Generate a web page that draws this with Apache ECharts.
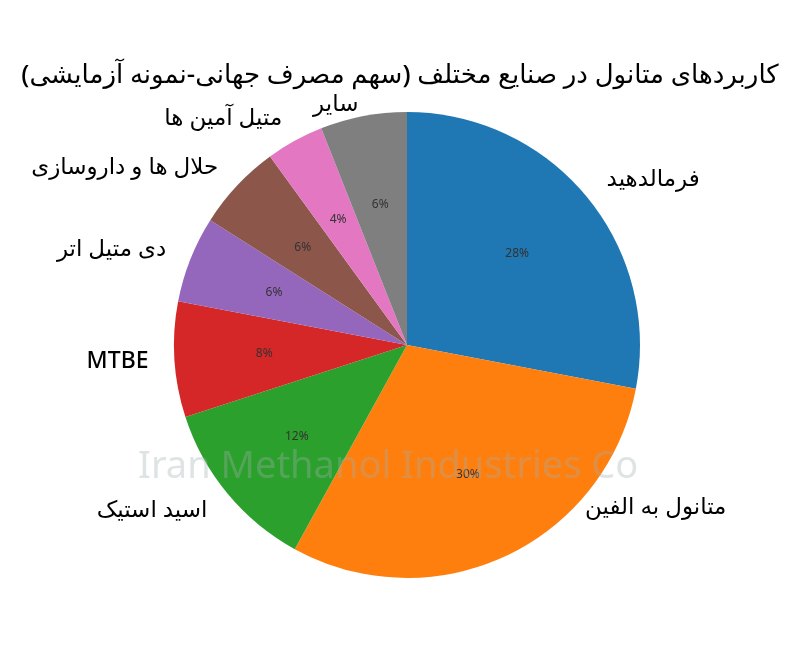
<!DOCTYPE html>
<html><head><meta charset="utf-8">
<script src="https://cdn.jsdelivr.net/npm/echarts@6/dist/echarts.min.js"></script>
<style>body{margin:0}#c{width:800px;height:666px}</style></head>
<body><div id="c"></div>
<script>
const categories=['فرمالدهید','متانول به الفین','اسید استیک','MTBE','دی متیل اتر','حلال ها و داروسازی','متیل آمین ها','سایر'];
const values=[28,30,12,8,6,6,4,6];
const colors=['#1f77b4','#ff7f0e','#2ca02c','#d62728','#9467bd','#8c564b','#e377c2','#7f7f7f'];
const font='"Noto Sans","DejaVu Sans",sans-serif';
const data=categories.map((n,i)=>({name:n,value:values[i],itemStyle:{color:colors[i]}}));
const c=echarts.init(document.getElementById('c'));
c.setOption({
 animation:false,
 title:{text:'کاربردهای متانول در صنایع مختلف (سهم مصرف جهانی-نمونه آزمایشی)',left:'center',top:58,textStyle:{fontFamily:font,fontSize:26,fontWeight:500,color:'#000'}},
 graphic:[{type:'text',left:138,top:448,z:100,silent:true,style:{text:'Iran Methanol Industries Co',fontSize:38,fill:'rgba(160,175,175,0.35)',fontFamily:font,letterSpacing:4}}],
 series:[
 {type:'pie',center:[407,345],radius:[0,233],startAngle:90,clockwise:true,data:data,avoidLabelOverlap:false,
  label:{show:true,position:'outside',fontFamily:font,fontSize:23,fontWeight:500,color:'#000',formatter:'{b}',distanceToLabelLine:0},
  labelLine:{show:false,length:26,length2:0},emphasis:{disabled:true},
  labelLayout:function(p){ if(p.dataIndex===1) return {x:585,y:507,align:'left',verticalAlign:'middle'}; if(p.dataIndex===7) return {y:104}; return {}; }},
 {type:'pie',center:[407,345],radius:[47,233],startAngle:90,clockwise:true,silent:true,
  data:data.map(d=>({name:d.name,value:d.value,itemStyle:{color:'transparent'}})),
  label:{show:true,position:'inside',formatter:'{c}%',fontSize:12,color:'#333',fontFamily:font},
  labelLine:{show:false},emphasis:{disabled:true}}
 ]
});
</script></body></html>
